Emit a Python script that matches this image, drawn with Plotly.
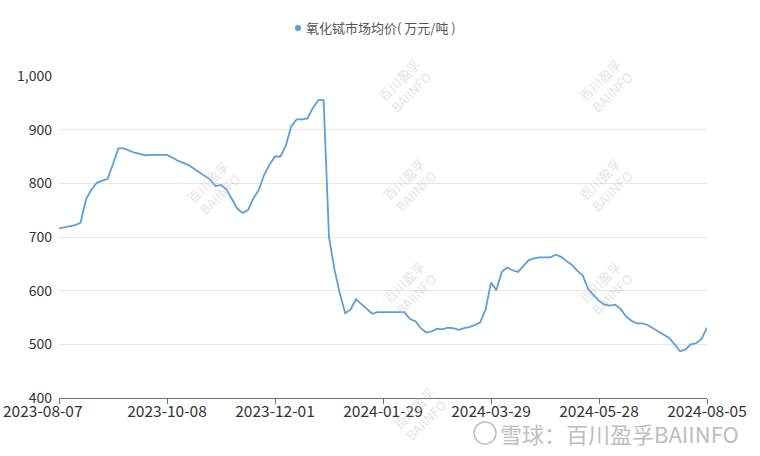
import plotly.graph_objects as go

# ---- data ----
series_name = "氧化铽市场均价( 万元/吨 )"
tick_labels = ["2023-08-07", "2023-10-08", "2023-12-01", "2024-01-29",
               "2024-03-29", "2024-05-28", "2024-08-05"]
tick_index = [0, 20, 40, 60, 80, 100, 120]
y_ticks = [400, 500, 600, 700, 800, 900, 1000]
prices = [
    716, 718, 719, 722, 727, 770, 788, 801, 805, 808,
    836, 865, 865, 861, 857, 855, 852, 853, 853, 853,
    853, 848, 842, 838, 834, 827, 820, 814, 807, 795,
    797, 789, 770, 753, 745, 750, 772, 788, 816, 835,
    850, 850, 870, 906, 919, 919, 921, 940, 955, 955,
    700, 640, 595, 558, 565, 584, 575, 566, 557, 560,
    560, 560, 560, 560, 560, 547, 543, 530, 522, 524,
    529, 528, 531, 530, 527, 530, 532, 536, 541, 565,
    615, 601, 635, 643, 638, 635, 647, 657, 660, 662,
    662, 662, 667, 663, 655, 648, 637, 628, 603, 591,
    581, 574, 572, 574, 566, 552, 544, 539, 539, 536,
    530, 524, 519, 512, 500, 487, 490, 500, 502, 510,
    531,
]

LINE = "#5B9FD8"
FONT = "Noto Sans CJK SC, Noto Sans, sans-serif"
L, R, T, B = 59, 53, 76, 58
PW, PH = 760 - L - R, 456 - T - B


def px(x):
    return (x - L) / PW


def py(y):
    return 1 - (y - T) / PH


fig = go.Figure()
fig.add_trace(go.Scatter(
    x=list(range(len(prices))), y=prices, mode="lines", name=series_name,
    line=dict(color=LINE, width=1.8), showlegend=False,
))

# legend (dot + text)
fig.add_shape(type="circle", xref="paper", yref="paper",
              x0=px(295), x1=px(301), y0=py(31), y1=py(25),
              fillcolor=LINE, line=dict(width=0))
fig.add_annotation(xref="paper", yref="paper", x=px(304), y=py(28),
                   xanchor="left", yanchor="middle", showarrow=False,
                   text=series_name,
                   font=dict(family=FONT, size=13, color="#555555"))

# first x label sits shifted left in the reference
fig.add_annotation(xref="paper", yref="paper", x=px(1), y=py(410),
                   xanchor="left", yanchor="middle", showarrow=False,
                   text=tick_labels[0],
                   font=dict(family=FONT, size=15.5, color="#333333"))
shown_ticks = [""] + tick_labels[1:]

# watermarks
wm_pos = [(405, 52), (640, 52), (180, 188), (410, 185), (640, 185),
          (410, 322), (640, 322), (420, 448)]
for (wx, wy) in wm_pos:
    fig.add_annotation(
        xref="paper", yref="paper", x=px(wx), y=py(wy),
        text="百川盈孚<br>BAIINFO", showarrow=False, textangle=-45,
        font=dict(family=FONT, size=13, color="rgba(190,190,190,0.45)"),
    )

fig.add_annotation(
    xref="paper", yref="paper", x=px(741), y=py(433),
    xanchor="right", yanchor="middle", showarrow=False,
    text="雪球：百川盈孚BAIINFO",
    font=dict(family=FONT, size=22, color="#BDBDBD"),
)
fig.add_shape(type="circle", xref="paper", yref="paper",
              x0=px(474), x1=px(496), y0=py(444), y1=py(422),
              line=dict(color="#BDBDBD", width=1.5))

fig.update_layout(
    width=760, height=456,
    margin=dict(l=L, r=R, t=T, b=B),
    paper_bgcolor="white", plot_bgcolor="white",
    font=dict(family=FONT, size=14, color="#333333"),
    showlegend=False,
    xaxis=dict(range=[0, 120], tickvals=tick_index, ticktext=shown_ticks,
               showgrid=False, zeroline=False, showline=True,
               linecolor="#6E7079", linewidth=1, ticks="outside",
               ticklen=5, tickcolor="#6E7079", automargin=False,
               ticklabelstandoff=-6,
               tickfont=dict(size=15.5, color="#333333")),
    yaxis=dict(range=[400, 1000], tickvals=y_ticks, tickformat=",d",
               showgrid=True, gridcolor="#E6E6E6", zeroline=False,
               showline=False, ticks="", ticklabelstandoff=6,
               automargin=False,
               tickfont=dict(size=14, color="#333333")),
)

fig.write_html("out.html",
               config={"displayModeBar": False},
               post_script="document.body.style.margin='0';"
                           "document.body.style.overflow='hidden';")
